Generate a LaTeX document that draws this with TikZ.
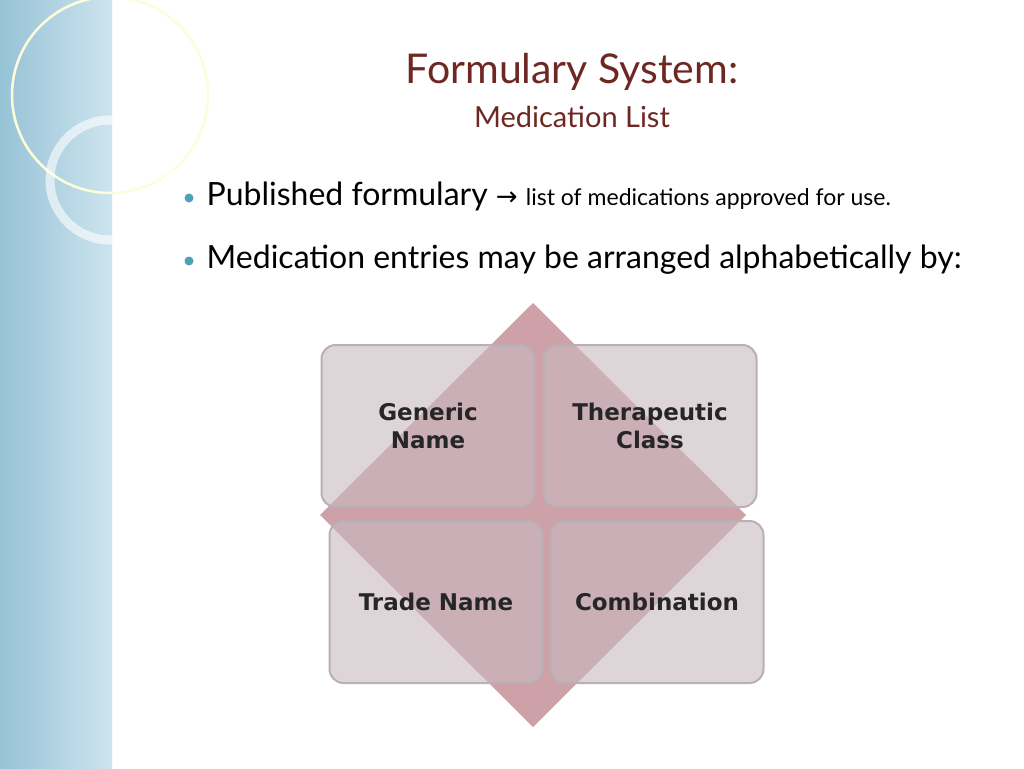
\documentclass[tikz,border=0pt]{standalone}
\usepackage{fontspec}
\setmainfont{Lato}
\newfontfamily\boxfont{DejaVu Sans}
\usetikzlibrary{positioning}
\definecolor{titlered}{RGB}{110,40,35}
\definecolor{bulletblue}{RGB}{80,160,185}
\definecolor{diamondred}{RGB}{190,130,140}
\definecolor{tilegray}{RGB}{200,185,192}
\tikzset{every picture/.style={line width=0.75pt}}
\tikzset{
  tile/.style={draw={rgb,255:red,185;green,175;blue,180}, line width=2pt, rounded corners=14pt, fill=tilegray, fill opacity=0.6,
    minimum width=213pt, minimum height=162pt, text opacity=1},
  tiletext/.style={font=\boxfont\bfseries\fontsize{23}{28}\selectfont, align=center, text=black!85},
  bullet/.style={circle, fill=bulletblue, inner sep=0pt, minimum size=9pt}
}
\begin{document}
\begin{tikzpicture}[x=1pt,y=-1pt]
\useasboundingbox (0,0) rectangle (1024,768);
%background
\fill[white] (0,0) rectangle (1024,768);
\shade[left color={rgb,255:red,150;green,195;blue,215}, right color={rgb,255:red,205;green,228;blue,238}] (0,0) rectangle (112,768);
%circles
\draw[white!85!yellow, line width=2.5pt] (110,95) circle (98);
\draw[white, opacity=0.6, line width=9pt] (110,180) circle (60);
%title
\node (title) at (572,72) {\textcolor{titlered}{\fontsize{41}{46}\selectfont Formulary System:}};
\node (subtitle) at (572,117) {\textcolor{titlered}{\fontsize{29}{34}\selectfont Medication List}};
%bullets
\node[bullet] (b1) at (189,198) {};
\node[anchor=west, font=\fontsize{32}{38}\selectfont] (t1) at (203,196) {Published formulary {\boxfont\fontsize{26}{30}\selectfont →} {\fontsize{23}{28}\selectfont list of medications approved for use.}};
\node[bullet] (b2) at (189,261) {};
\node[anchor=west, font=\fontsize{32}{38}\selectfont] (t2) at (203,260) {Medication entries may be arranged alphabetically by:};
%diamond
\fill[diamondred, opacity=0.75] (533,303) -- (746,515) -- (533,727) -- (320,515) -- cycle;
%tiles
\node[tile] (generic) at (428,426) {};
\node[tile] (therapeutic) at (650,426) {};
\node[tile] (trade) at (436,602) {};
\node[tile] (combination) at (657,602) {};
\node[tiletext] at (generic) {Generic\\Name};
\node[tiletext] at (therapeutic) {Therapeutic\\Class};
\node[tiletext] at (trade) {Trade Name};
\node[tiletext] at (combination) {Combination};
\end{tikzpicture}
\end{document}
